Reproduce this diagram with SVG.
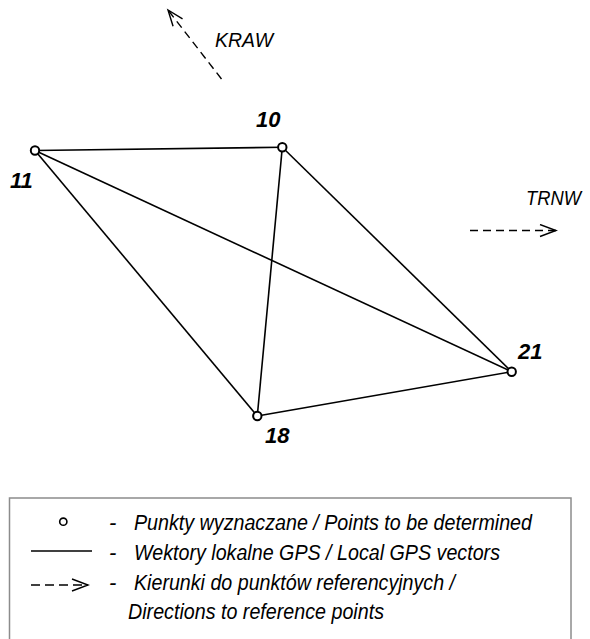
<svg xmlns="http://www.w3.org/2000/svg" width="590" height="639" viewBox="0 0 590 639">
<defs>
<style>
.edge{stroke:#000;stroke-width:1.6;fill:none}
.dir{stroke:#000;stroke-width:1.4;fill:none;stroke-dasharray:8 5}
.node{fill:#fff;stroke:#000;stroke-width:2}
.lbl{font-family:"Liberation Sans",Arial,sans-serif;font-weight:bold;font-style:italic;font-size:22px;fill:#000}
.dlbl{font-family:"Liberation Sans",Arial,sans-serif;font-style:italic;font-size:21px;fill:#000}
.leg{font-family:"Liberation Sans",Arial,sans-serif;font-style:italic;font-size:22px;fill:#000}
</style>
<marker id="chev" markerUnits="userSpaceOnUse" markerWidth="20" markerHeight="16" refX="17" refY="7" orient="auto" viewBox="0 0 20 16">
<path d="M1 1 L17 7 L1 13" fill="none" stroke="#000" stroke-width="1.4"/>
</marker>
</defs>
<rect width="590" height="639" fill="#fff"/>
<g id="connectors">
<line class="edge" x1="35" y1="150.5" x2="282.3" y2="147.3"/>
<line class="edge" x1="35" y1="150.5" x2="511.7" y2="371.7"/>
<line class="edge" x1="35" y1="150.5" x2="257.3" y2="416"/>
<line class="edge" x1="282.3" y1="147.3" x2="257.3" y2="416"/>
<line class="edge" x1="282.3" y1="147.3" x2="511.7" y2="371.7"/>
<line class="edge" x1="257.3" y1="416" x2="511.7" y2="371.7"/>
</g>
<g id="dir-kraw">
<line class="dir" x1="221.5" y1="79" x2="168" y2="10" marker-end="url(#chev)"/>
<text class="dlbl" x="215" y="47" textLength="58" lengthAdjust="spacingAndGlyphs">KRAW</text>
</g>
<g id="dir-trnw">
<line class="dir" x1="470" y1="230.5" x2="556" y2="230.5" marker-end="url(#chev)"/>
<text class="dlbl" x="526" y="205" textLength="55" lengthAdjust="spacingAndGlyphs">TRNW</text>
</g>
<g id="n11"><circle class="node" cx="35" cy="150.5" r="4.2"/><text class="lbl" x="10" y="188">11</text></g>
<g id="n10"><circle class="node" cx="282.3" cy="147.3" r="4.2"/><text class="lbl" x="256" y="127">10</text></g>
<g id="n21"><circle class="node" cx="511.7" cy="371.7" r="4.2"/><text class="lbl" x="518" y="359">21</text></g>
<g id="n18"><circle class="node" cx="257.3" cy="416" r="4.2"/><text class="lbl" x="265" y="443">18</text></g>
<g id="legend">
<rect x="9.5" y="498" width="561.5" height="150" fill="none" stroke="#8c8c8c" stroke-width="1.5"/>
<circle cx="63.3" cy="521.7" r="3.6" fill="#fff" stroke="#000" stroke-width="1.6"/>
<line class="edge" x1="31" y1="551" x2="92" y2="551" stroke-width="1.4"/>
<line x1="31" y1="585" x2="88" y2="585" stroke="#000" stroke-width="1.3" stroke-dasharray="9 5" marker-end="url(#chev)"/>
<text class="leg" x="109" y="530">-</text>
<text class="leg" x="109" y="560">-</text>
<text class="leg" x="109" y="590">-</text>
<text class="leg" x="134" y="530" textLength="398" lengthAdjust="spacingAndGlyphs">Punkty wyznaczane / Points to be determined</text>
<text class="leg" x="134" y="560" textLength="366" lengthAdjust="spacingAndGlyphs">Wektory lokalne GPS / Local GPS vectors</text>
<text class="leg" x="134" y="590" textLength="321" lengthAdjust="spacingAndGlyphs">Kierunki do punktów referencyjnych /</text>
<text class="leg" x="128" y="618.5" textLength="256" lengthAdjust="spacingAndGlyphs">Directions to reference points</text>
</g>
</svg>
